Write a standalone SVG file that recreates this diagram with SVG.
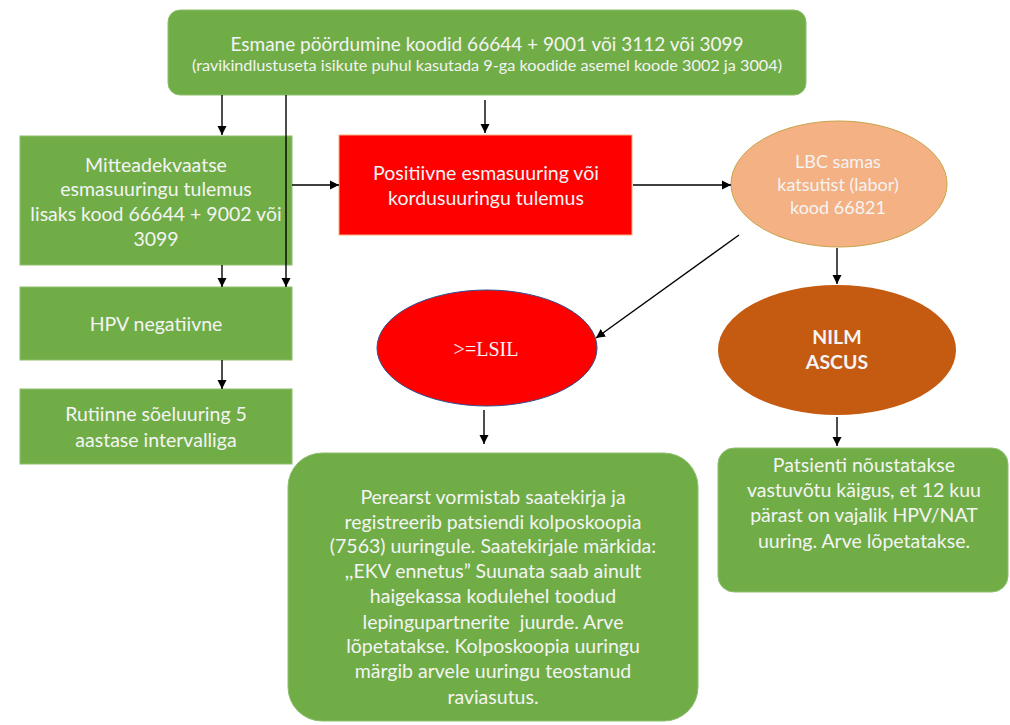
<svg xmlns="http://www.w3.org/2000/svg" width="1010" height="725" viewBox="0 0 1010 725">
<style>
.g{fill:#70AD47;stroke:#8DBF6E;stroke-width:1}
.t{font-family:Lato,"Open Sans",sans-serif;font-size:19.5px;fill:#F4F4F4;text-anchor:middle}
.c{stroke:#000;stroke-width:1.4;fill:none;marker-end:url(#ah)}
</style>
<defs>
<marker id="ah" markerWidth="10" markerHeight="10" refX="9" refY="5" orient="auto" markerUnits="userSpaceOnUse">
<path d="M0,0.5 L9,5 L0,9.5 Z" fill="#000"/>
</marker>
</defs>
<rect width="1010" height="725" fill="#fff"/>
<g id="top">
<rect class="g" x="168" y="10" width="638" height="85" rx="12"/>
<text class="t" x="487" y="51" style="font-size:19px">Esmane pöördumine koodid 66644 + 9001 või 3112 või 3099</text>
<text class="t" x="487" y="71" style="font-size:14.5px" textLength="590" lengthAdjust="spacingAndGlyphs">(ravikindlustuseta isikute puhul kasutada 9-ga koodide asemel koode 3002 ja 3004)</text>
</g>
<g id="mitte">
<rect class="g" x="20" y="136" width="272" height="129"/>
<text class="t" x="156" y="172">Mitteadekvaatse</text>
<text class="t" x="156" y="196">esmasuuringu tulemus</text>
<text class="t" x="156" y="221">lisaks kood 66644 + 9002 või</text>
<text class="t" x="156" y="246">3099</text>
</g>
<g id="hpv">
<rect class="g" x="20" y="287" width="272" height="73"/>
<text class="t" x="156" y="331">HPV negatiivne</text>
</g>
<g id="rutiinne">
<rect class="g" x="20" y="389" width="272" height="75"/>
<text class="t" x="156" y="421">Rutiinne sõeluuring 5</text>
<text class="t" x="156" y="447">aastase intervalliga</text>
</g>
<g id="positiivne">
<rect x="339" y="135" width="293" height="100" fill="#FF0000" stroke="#F4B183" stroke-width="1"/>
<text class="t" x="486" y="180">Positiivne esmasuuring või</text>
<text class="t" x="486" y="205">kordusuuringu tulemus</text>
</g>
<g id="lbc">
<ellipse cx="839" cy="184" rx="108" ry="63" fill="#F4B183" stroke="#C9A24A" stroke-width="1"/>
<text class="t" x="838" y="168" style="font-size:18px">LBC samas</text>
<text class="t" x="838" y="191" style="font-size:18px">katsutist (labor)</text>
<text class="t" x="838" y="214" style="font-size:18px">kood 66821</text>
</g>
<g id="lsil">
<ellipse cx="487" cy="348" rx="110" ry="58" fill="#FF0000" stroke="#2F528F" stroke-width="1"/>
<text x="486" y="356" style="font-family:'Liberation Serif',serif;font-size:20px;fill:#F4F4F4;text-anchor:middle">&gt;=LSIL</text>
</g>
<g id="nilm">
<ellipse cx="837" cy="350" rx="119" ry="65" fill="#C55A11"/>
<text class="t" x="837" y="344" style="font-weight:bold">NILM</text>
<text class="t" x="837" y="369" style="font-weight:bold">ASCUS</text>
</g>
<g id="patsienti">
<rect class="g" x="718" y="448" width="290" height="144" rx="16"/>
<text class="t" x="864" y="472">Patsienti nõustatakse</text>
<text class="t" x="864" y="497">vastuvõtu käigus, et 12 kuu</text>
<text class="t" x="864" y="522">pärast on vajalik HPV/NAT</text>
<text class="t" x="864" y="548">uuring. Arve lõpetatakse.</text>
</g>
<g id="perearst">
<rect class="g" x="288" y="453" width="410" height="268" rx="34"/>
<text class="t" x="493" y="504">Perearst vormistab saatekirja ja</text>
<text class="t" x="493" y="529">registreerib patsiendi kolposkoopia</text>
<text class="t" x="493" y="553">(7563) uuringule. Saatekirjale märkida:</text>
<text class="t" x="493" y="578">,,EKV ennetus” Suunata saab ainult</text>
<text class="t" x="493" y="603">haigekassa kodulehel toodud</text>
<text class="t" x="493" y="629" style="white-space:pre">lepingupartnerite  juurde. Arve</text>
<text class="t" x="493" y="653">lõpetatakse. Kolposkoopia uuringu</text>
<text class="t" x="493" y="678">märgib arvele uuringu teostanud</text>
<text class="t" x="493" y="704">raviasutus.</text>
</g>
<g id="connectors">
<line class="c" x1="222" y1="95" x2="222" y2="135"/>
<line class="c" x1="286" y1="95" x2="286" y2="287"/>
<line class="c" x1="485" y1="100" x2="485" y2="133"/>
<line class="c" x1="222" y1="265" x2="222" y2="287"/>
<line class="c" x1="222" y1="360" x2="222" y2="389"/>
<line class="c" x1="292" y1="185" x2="339" y2="185"/>
<line class="c" x1="633" y1="185" x2="731" y2="185"/>
<line class="c" x1="837" y1="248" x2="837" y2="284"/>
<line class="c" x1="837" y1="417" x2="837" y2="446"/>
<line class="c" x1="739" y1="235" x2="596" y2="338" stroke="#333"/>
<line class="c" x1="484" y1="410" x2="484" y2="444"/>
</g>
</svg>
